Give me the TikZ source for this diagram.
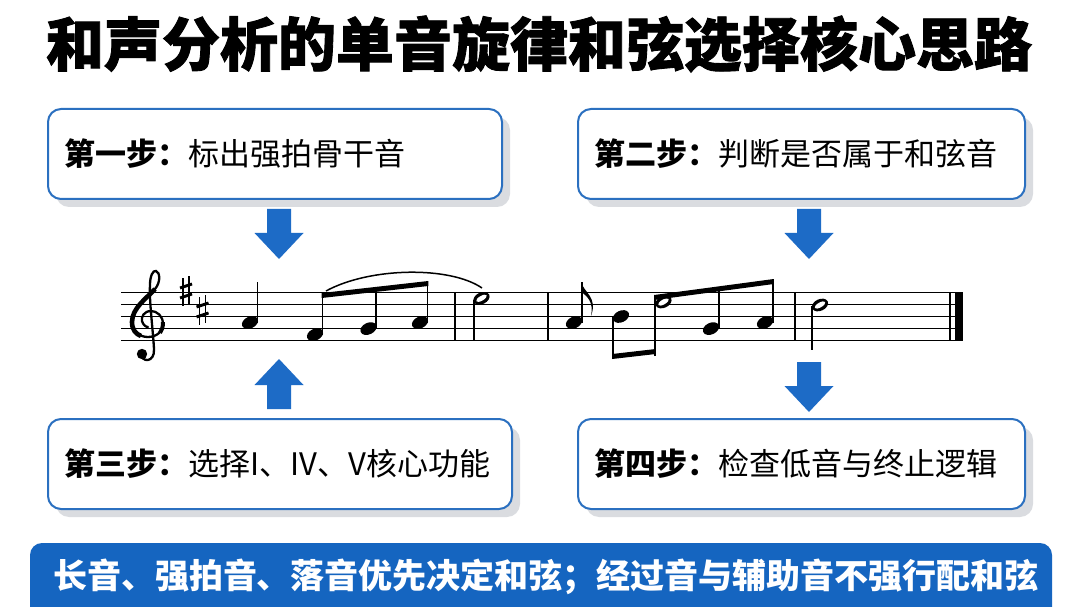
\documentclass[tikz,border=0pt]{standalone}
\usepackage{fontspec}
\setmainfont{Noto Sans CJK SC}
\newfontfamily\titlefont{Noto Sans CJK SC}[BoldFeatures={FakeBold=1.5}]
\usepackage{tikz}
\usetikzlibrary{positioning,calc,shadows}
\definecolor{sblue}{HTML}{2B70C0}
\definecolor{ablue}{HTML}{1D6BC6}
\definecolor{bband}{HTML}{1565C0}
\definecolor{sgry}{HTML}{D6D9DD}
\newcommand{\qhead}[2]{\fill (#1,#2) ellipse[x radius=8.5pt, y radius=5.8pt, rotate=25];}
\newcommand{\hhead}[2]{\fill (#1,#2) ellipse[x radius=8.5pt, y radius=5.8pt, rotate=25];
  \fill[white] (#1,#2) ellipse[x radius=6pt, y radius=2.4pt, rotate=30];}
\newcommand{\sharpsign}[2]{%
  \draw[line width=1.3pt] (#1-3,#2-13) -- (#1-3,#2+15) (#1+3,#2-15) -- (#1+3,#2+13);
  \draw[line width=3pt] (#1-6,#2-3) -- (#1+6,#2-7) (#1-6,#2+7) -- (#1+6,#2+3);}
\tikzset{
  stepbox/.style ={draw=sblue, line width=2pt, fill=white, rounded corners=13pt,
                   minimum height=90pt, inner sep=0pt,
                   drop shadow={shadow xshift=8pt, shadow yshift=-8pt, fill=sgry, opacity=0.9}},
  steptext/.style={font=\fontsize{31}{36}\selectfont, inner sep=0pt},
  stem/.style    ={line width=1.6pt},
  bar/.style     ={line width=1.4pt},
  blockarrow/.style={fill=ablue},
}

\begin{document}
\begin{tikzpicture}[x=1pt,y=-1pt]
  \useasboundingbox[fill=white] (0,0) rectangle (1080,607);

  \node[font=\titlefont\fontsize{58}{62}\selectfont\bfseries] (title) at (539,44) {和声分析的单音旋律和弦选择核心思路};

  \node[stepbox, minimum width=454pt] (s1) at (275,154) {};
  \node[stepbox, minimum width=447pt] (s2) at (801.5,154) {};
  \node[stepbox, minimum width=464pt] (s3) at (280,464) {};
  \node[stepbox, minimum width=447pt] (s4) at (801.5,464) {};
  \node[steptext, right=17pt of s1.west] {\textbf{第一步：}标出强拍骨干音};
  \node[steptext, right=17pt of s2.west] {\textbf{第二步：}判断是否属于和弦音};
  \node[steptext, right=17pt of s3.west] {\textbf{第三步：}选择I、IV、V核心功能};
  \node[steptext, right=17pt of s4.west] {\textbf{第四步：}检查低音与终止逻辑};

  \foreach \cx/\ty/\dir in {279/209/1, 809/209/1, 279/409/-1, 809/362/1}
    \fill[blockarrow] ({\cx-12},\ty) -- ({\cx+12},\ty) -- ({\cx+12},{\ty+24*\dir})
      -- ({\cx+24.5},{\ty+24*\dir}) -- (\cx,{\ty+50*\dir}) -- ({\cx-24.5},{\ty+24*\dir})
      -- ({\cx-12},{\ty+24*\dir}) -- cycle;

  \foreach \k in {0,...,4}
    \draw[line width=1.3pt] (121,{292.3+12.1*\k}) -- (962,{292.3+12.1*\k});
  % treble clef
  \draw[line width=2.3pt, line cap=round] (141,353) .. controls (141,363) and (155,363) .. (154,349)
    .. controls (153,330) and (149,300) .. (150,285)
    .. controls (150,276) and (153,270) .. (156,271)
    .. controls (160,272) and (161,282) .. (155,289)
    .. controls (147,298) and (132,308) .. (132,322)
    .. controls (132,333) and (141,337) .. (148,337)
    .. controls (157,337) and (163,331) .. (163,324)
    .. controls (163,316) and (157,311) .. (151,311)
    .. controls (144,311) and (141,317) .. (142,321)
    .. controls (143,325) and (146,327) .. (148,327);
  \draw[line width=4.6pt] (155,289) .. controls (147,298) and (132,308) .. (132,322)
    .. controls (132,330) and (136,334) .. (141,336);
  \draw[line width=4pt] (160,333) .. controls (162,330) and (163,327) .. (163,322);
  \fill (142,354) circle (5.2pt);
  \sharpsign{186}{291}
  \sharpsign{202.5}{310}

  \qhead{250}{322.5}
  \draw[stem] (257.5,323) -- (257.5,282);
  \qhead{315}{334.6} \qhead{368.5}{328.6} \qhead{420}{322.5}
  \draw[stem] (322.5,335) -- (322.5,295) (376,329) -- (376,288) (427.5,323) -- (427.5,283);
  \fill (321.7,293) -- (428.3,281) -- (428.3,286) -- (321.7,298) -- cycle;
  \draw[line width=1.5pt] (326,291) .. controls (370,267) and (450,266) .. (482,288);
  \draw[bar] (455,292.3) -- (455,340.7);
  \hhead{481.5}{298.3}
  \draw[stem] (474,300) -- (474,341);
  \draw[bar] (548,292.3) -- (548,340.7);

  \qhead{574}{322.5}
  \draw[stem] (582,323) -- (582,282);
  \fill (581.2,282) .. controls (584,293) and (598,297) .. (591,316)
    .. controls (594,302) and (587,296) .. (581.2,292) -- cycle;
  \qhead{621}{316.5}
  \draw[stem] (613,317) -- (613,358);
  \hhead{663.5}{302}
  \draw[stem] (655,356) -- (655,296);
  \fill (612.2,354) -- (655.8,349) -- (655.8,354) -- (612.2,359) -- cycle;
  \qhead{711}{328.6} \qhead{765}{322.5}
  \draw[stem] (719,329) -- (719,288) (773,323) -- (773,281);
  \fill (654.2,295) -- (773.8,279) -- (773.8,284) -- (654.2,300) -- cycle;
  \draw[bar] (795,292.3) -- (795,340.7);
  \hhead{820}{305}
  \draw[stem] (812,306) -- (812,350);
  \draw[bar] (950,292.3) -- (950,340.7);
  \fill (955,292.3) rectangle (963,340.7);

  \fill[bband, rounded corners=12pt] (30,543) rectangle (1052,630);
  \node[font=\fontsize{34}{38}\selectfont\bfseries, text=white] (keynote) at (546,577)
    {长音、强拍音、落音优先决定和弦；经过音与辅助音不强行配和弦};
\end{tikzpicture}
\end{document}
